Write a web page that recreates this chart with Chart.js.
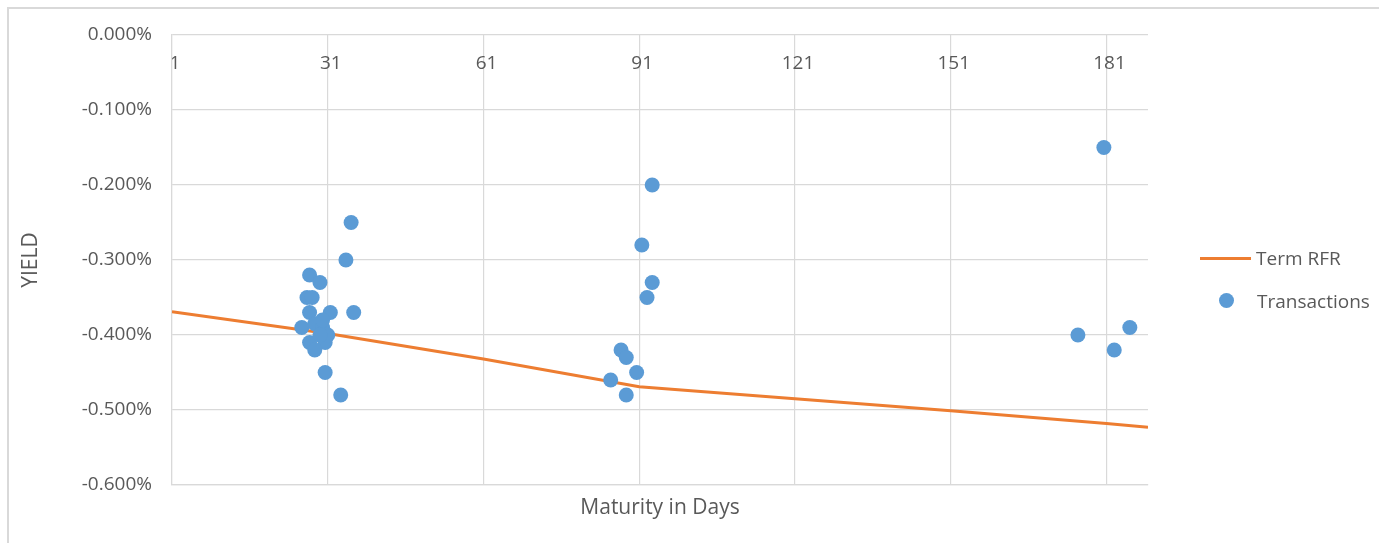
<!DOCTYPE html>
<html>
<head>
<meta charset="utf-8">
<script src="https://cdn.jsdelivr.net/npm/chart.js@4/dist/chart.umd.min.js"></script>
<style>
  html, body { margin: 0; padding: 0; background: #fff; overflow: hidden; }
  #wrap { position: relative; width: 1379px; height: 543px; }
  #frame { position: absolute; left: 7px; top: 7px; width: 1400px; height: 600px; border: 2px solid #d9d9d9; box-sizing: border-box; }
  #chartBox { position: absolute; left: 0; top: 0; width: 1379px; height: 543px; }
  .legend-item { position: absolute; font-family: 'Open Sans', sans-serif; font-size: 19px; color: #595959; line-height: 24px; }
  .legend-line { position: absolute; width: 51px; height: 3px; background: #ED7D31; }
  .legend-dot { position: absolute; width: 15px; height: 15px; border-radius: 50%; background: #5B9BD5; }
</style>
</head>
<body>
<div id="wrap">
  <div id="frame"></div>
  <div id="chartBox"><canvas id="yieldChart"></canvas></div>
  <div class="legend-line" style="left:1200px; top:257px;"></div>
  <div class="legend-item" style="left:1256px; top:246px;">Term RFR</div>
  <div class="legend-dot" style="left:1219px; top:293px;"></div>
  <div class="legend-item" style="left:1257px; top:289px;">Transactions</div>
</div>
<script>
// Transactions (days to maturity, yield in %)
const txDays = [26, 27, 28, 27.5, 29.5, 27.5, 31.5, 36, 35.5, 34.5, 27.5, 30.5, 28.5, 30.5, 33.5, 28.5, 30, 31, 30, 29.5,
                93.5, 91.5, 93.5, 92.5, 87.5, 88.5, 90.5, 85.5, 88.5,
                180.5, 175.5, 182.5, 185.5];
const txYields = [-0.39, -0.35, -0.35, -0.32, -0.33, -0.37, -0.37, -0.37, -0.25, -0.30, -0.41, -0.41, -0.42, -0.45, -0.48, -0.385, -0.39, -0.40, -0.38, -0.40,
                  -0.20, -0.28, -0.33, -0.35, -0.42, -0.43, -0.45, -0.46, -0.48,
                  -0.15, -0.40, -0.42, -0.39];

// Term RFR curve
const rfrDays = [1, 31, 61, 91, 121, 151, 181, 189];
const rfrYields = [-0.369, -0.398, -0.432, -0.469, -0.485, -0.501, -0.518, -0.523];

// axis ticks
const xTicks = [1, 31, 61, 91, 121, 151, 181];
const yTicks = [0, -0.1, -0.2, -0.3, -0.4, -0.5, -0.6];

const textColor = '#595959';
const gridColor = '#d9d9d9';
Chart.defaults.font.family = "'Open Sans', sans-serif";

const setXTicks = (scale) => { scale.ticks = xTicks.map(v => ({ value: v })); };
const setYTicks = (scale) => { scale.ticks = yTicks.map(v => ({ value: v })); };

const ctx = document.getElementById('yieldChart').getContext('2d');
new Chart(ctx, {
    type: 'scatter',
    data: {
        datasets: [{
            label: 'Transactions',
            data: txDays.map((d, i) => ({ x: d, y: txYields[i] })),
            backgroundColor: '#5B9BD5',
            borderColor: '#5B9BD5',
            borderWidth: 0,
            pointRadius: 7.5,
            order: 0
        }, {
            label: 'Term RFR',
            type: 'line',
            data: rfrDays.map((d, i) => ({ x: d, y: rfrYields[i] })),
            borderColor: '#ED7D31',
            borderWidth: 3,
            pointRadius: 0,
            fill: false,
            tension: 0,
            order: 1
        }]
    },
    options: {
        responsive: true,
        maintainAspectRatio: false,
        animation: false,
        layout: {
            padding: { left: 8, right: 231, top: 35, bottom: 0 }
        },
        plugins: {
            legend: { display: false },
            tooltip: { enabled: false }
        },
        scales: {
            x: {
                type: 'linear',
                position: 'bottom',
                min: 1,
                max: 189,
                afterBuildTicks: setXTicks,
                afterFit: (s) => { s.height = 58; },
                grid: { color: gridColor, lineWidth: 1.2, drawTicks: false },
                border: { color: gridColor, width: 1.2 },
                ticks: { display: false },
                title: {
                    display: true,
                    text: 'Maturity in Days',
                    color: textColor,
                    font: { size: 21 },
                    padding: { top: 0, bottom: 22 }
                }
            },
            xTop: {
                type: 'linear',
                position: { y: 0 },
                min: 1,
                max: 189,
                afterBuildTicks: setXTicks,
                afterFit: (s) => { s.height = 0; },
                grid: { display: false, drawTicks: false },
                border: { display: false },
                ticks: { padding: 17, labelOffset: 3, color: textColor, font: { size: 19 }, maxRotation: 0, autoSkip: false }
            },
            y: {
                type: 'linear',
                min: -0.6,
                max: 0,
                afterBuildTicks: setYTicks,
                afterFit: (s) => { s.width = 164; },
                grid: { color: gridColor, lineWidth: 1.2, drawTicks: false },
                border: { color: gridColor, width: 1.2 },
                ticks: {
                    padding: 20,
                    color: textColor,
                    font: { size: 19 },
                    callback: (v) => (Math.abs(v) < 1e-9 ? 0 : v).toFixed(3) + '%'
                },
                title: {
                    display: true,
                    text: 'YIELD',
                    color: textColor,
                    font: { size: 21 },
                    padding: { top: 10, bottom: 0 }
                }
            }
        }
    }
});
</script>
</body>
</html>
